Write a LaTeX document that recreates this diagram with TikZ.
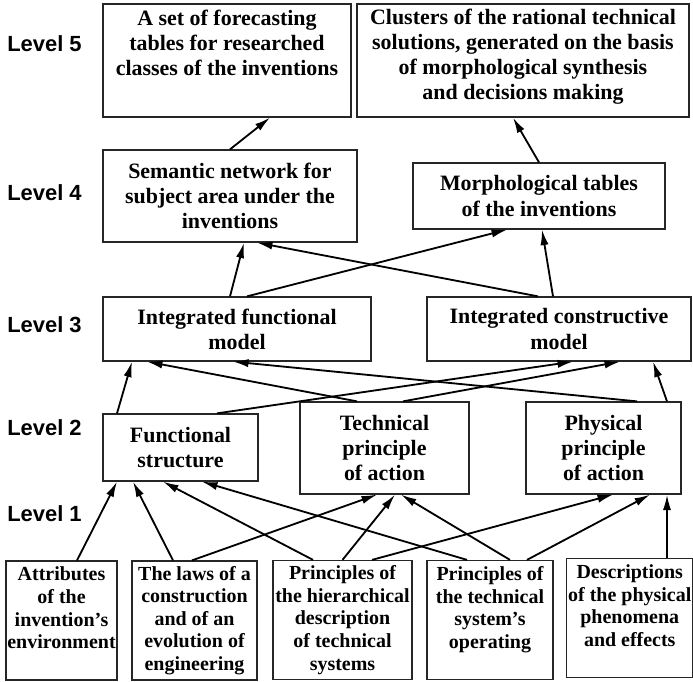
\documentclass[tikz,border=0pt]{standalone}
\usepackage{fontspec}
\setmainfont{Liberation Serif}
\newfontfamily\levelfont{Liberation Sans}
\usetikzlibrary{arrows.meta}

\begin{document}
\begin{tikzpicture}[every text node part/.style={align=center},
    box/.style={draw=black!85, line width=0.9pt, inner sep=1pt, font=\bfseries\fontsize{15.6}{17.8}\selectfont},
    lowbox/.style={box, font=\bfseries\fontsize{14.2}{16.1}\selectfont, minimum height=2.975cm},
    level/.style={anchor=west, inner sep=0pt, font=\levelfont\bfseries\fontsize{15.6}{18}\selectfont},
    arr/.style={-{Latex[length=11pt, width=5.8pt]}, line width=1.3pt}]
    \useasboundingbox (0, 0) rectangle (17.325, -17.025);
    \node (lev5) [level] at (0.175, -1.1) {Level 5};
    \node (lev4) [level] at (0.175, -4.825) {Level 4};
    \node (lev3) [level] at (0.175, -8.125) {Level 3};
    \node (lev2) [level] at (0.175, -10.7) {Level 2};
    \node (lev1) [level] at (0.175, -12.85) {Level 1};
    \node (forecast) [box, minimum width=6.2cm, minimum height=2.825cm, text depth=0.875cm] at (5.675, -1.5125) {A set of forecasting\\ tables for researched\\ classes of the inventions};
    \node (clusters) [box, minimum width=8.3cm, minimum height=2.825cm, text depth=0.3cm] at (13.075, -1.5125) {Clusters of the rational technical\\ solutions, generated on the basis\\ of morphological synthesis\\ and decisions making};
    \node (semantic) [box, minimum width=6.35cm, minimum height=2.3cm] at (5.75, -4.9) {Semantic network for\\ subject area under the\\ inventions};
    \node (morph) [box, minimum width=6.3cm, minimum height=1.65cm] at (13.475, -4.9) {Morphological tables\\ of the inventions};
    \node (funcmodel) [box, minimum width=6.7cm, minimum height=1.6cm] at (5.925, -8.225) {Integrated functional\\ model};
    \node (constrmodel) [box, minimum width=6.6cm, minimum height=1.6cm] at (13.975, -8.225) {Integrated constructive\\ model};
    \node (funcstruct) [box, minimum width=3.875cm, minimum height=1.675cm] at (4.5125, -11.1875) {Functional\\ structure};
    \node (techprinc) [box, minimum width=4.225cm, minimum height=2.3cm] at (9.6125, -11.2) {Technical\\ principle\\ of action};
    \node (physprinc) [box, minimum width=3.875cm, minimum height=2.3cm] at (15.0875, -11.2) {Physical\\ principle\\ of action};
    \node (attrib) [lowbox, minimum width=2.775cm, text depth=0.625cm] at (1.5375, -15.5125) {Attributes\\ of the\\ invention’s\\ environment};
    \node (laws) [lowbox, minimum width=3.125cm] at (4.8625, -15.5125) {The laws of a\\ construction\\ and of an\\ evolution of\\ engineering};
    \node (hierarchy) [lowbox, minimum width=3.475cm] at (8.5625, -15.5) {Principles of\\ the hierarchical\\ description\\ of technical\\ systems};
    \node (operating) [lowbox, minimum width=3.15cm, text depth=0.625cm] at (12.25, -15.5) {Principles of\\ the technical\\ system’s\\ operating};
    \node (phenomena) [lowbox, minimum width=3.0875cm, text depth=0.625cm] at (15.74375, -15.45) {Descriptions\\ of the physical\\ phenomena\\ and effects};
    \draw[arr] (semantic.north) -- ([xshift=1.075cm]forecast.south);
    \draw[arr] (morph.north) -- ([xshift=-0.25cm]clusters.south);
    \draw[arr] ([xshift=-0.175cm]funcmodel.north) -- ([xshift=0.35cm]semantic.south);
    \draw[arr] ([xshift=0.25cm]funcmodel.north) -- ([xshift=-0.8cm]morph.south);
    \draw[arr] ([xshift=-0.525cm]constrmodel.north) -- ([xshift=0.675cm]semantic.south);
    \draw[arr] ([xshift=-0.15cm]constrmodel.north) -- ([xshift=0.075cm]morph.south);
    \draw[arr] ([xshift=-1.5875cm]funcstruct.north) -- ([xshift=-2.625cm]funcmodel.south);
    \draw[arr] ([xshift=0.9125cm]funcstruct.north) -- ([xshift=0.35cm]constrmodel.south);
    \draw[arr] ([xshift=0.4625cm]techprinc.north) -- ([xshift=1.525cm]constrmodel.south);
    \draw[arr] ([xshift=-0.6875cm]techprinc.north) -- ([xshift=-2.25cm]funcmodel.south);
    \draw[arr] ([xshift=0.8375cm]physprinc.north) -- ([xshift=-0.1cm]funcmodel.south);
    \draw[arr] ([xshift=1.5875cm]physprinc.north) -- ([xshift=2.35cm]constrmodel.south);
    \draw[arr] ([xshift=0.3875cm]attrib.north) -- ([xshift=-1.5875cm]funcstruct.south);
    \draw[arr] ([xshift=-0.5375cm]laws.north) -- ([xshift=-1.1875cm]funcstruct.south);
    \draw[arr] ([xshift=-0.0625cm]laws.north) -- ([xshift=-0.1875cm]techprinc.south);
    \draw[arr] ([xshift=-0.7375cm]hierarchy.north) -- ([xshift=-0.4375cm]funcstruct.south);
    \draw[arr] (hierarchy.north) -- ([xshift=0.2625cm]techprinc.south);
    \draw[arr] ([xshift=0.7375cm]hierarchy.north) -- ([xshift=0.2375cm]physprinc.south);
    \draw[arr] ([xshift=-0.575cm]operating.north) -- ([xshift=0.5375cm]funcstruct.south);
    \draw[arr] ([xshift=0.5cm]operating.north) -- ([xshift=0.4125cm]techprinc.south);
    \draw[arr] ([xshift=0.925cm]operating.north) -- ([xshift=1.1625cm]physprinc.south);
    \draw[arr] ([xshift=0.93125cm]phenomena.north) -- ([xshift=1.5875cm]physprinc.south);
  \end{tikzpicture}
\end{document}
